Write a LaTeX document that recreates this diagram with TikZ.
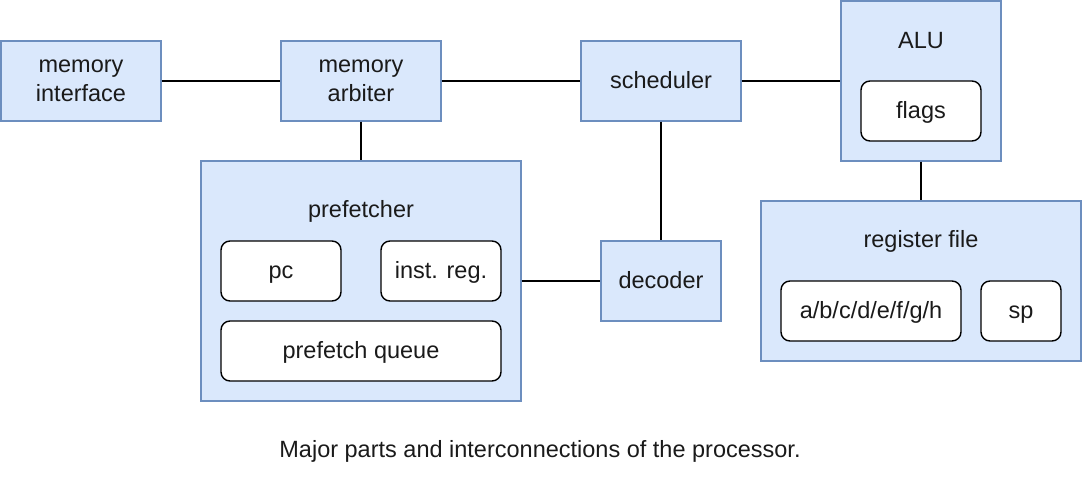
\documentclass[tikz,border=0pt]{standalone}
\usepackage{fontspec}
\setmainfont{Liberation Sans}
\definecolor{boxfill}{HTML}{DAE8FC}
\definecolor{boxline}{HTML}{6C8EBF}
\definecolor{txt}{HTML}{1A1A1A}
\begin{document}
\begin{tikzpicture}[x=1pt,y=-1pt,
  txtstyle/.style={font=\fontsize{23.5}{29}\selectfont, text=txt, align=center, inner sep=0pt},
  oneline/.style={text height=17pt, text depth=3pt},
  bluebox/.style={txtstyle, draw=boxline, fill=boxfill, line width=1.4pt, minimum width=#1, inner sep=0pt},
  whitebox/.style={txtstyle, oneline, draw=black, fill=white, line width=1.4pt, rounded corners=9pt, inner sep=0pt},
  wire/.style={line width=1.4pt, draw=black}]
\useasboundingbox (0,0) rectangle (1082,482);
% top row
\node[bluebox=160pt, minimum height=80pt] (mi) at (81,81) {\raisebox{-2pt}{\begin{tabular}{@{}c@{}}memory\\interface\end{tabular}}};
\node[bluebox=160pt, minimum height=80pt] (ma) at (361,81) {\raisebox{-2pt}{\begin{tabular}{@{}c@{}}memory\\arbiter\end{tabular}}};
\node[bluebox=160pt, minimum height=80pt, oneline] (sc) at (661,81) {scheduler};
\node[bluebox=160pt, minimum height=160pt] (alu) at (921,81) {};
\node[txtstyle, oneline] (alut) at (921,41) {ALU};
\node[whitebox, minimum width=120pt, minimum height=60pt] (fl) at (921,111) {flags};
% prefetcher
\node[bluebox=320pt, minimum height=240pt] (pf) at (361,281) {};
\node[txtstyle, oneline] (pft) at (361,210) {prefetcher};
\node[whitebox, minimum width=120pt, minimum height=60pt] (pc) at (281,271) {pc};
\node[whitebox, minimum width=120pt, minimum height=60pt] (ir) at (441,271) {inst. reg.};
\node[whitebox, minimum width=280pt, minimum height=60pt] (pq) at (361,351) {prefetch queue};
% decoder
\node[bluebox=120pt, minimum height=80pt, oneline] (dec) at (661,281) {decoder};
% register file
\node[bluebox=320pt, minimum height=160pt] (rf) at (921,281) {};
\node[txtstyle, oneline] (rft) at (921,240) {register file};
\node[whitebox, minimum width=180pt, minimum height=60pt] (regs) at (871,311) {a/b/c/d/e/f/g/h};
\node[whitebox, minimum width=80pt, minimum height=60pt] (sp) at (1021,311) {sp};
% caption
\node[txtstyle, oneline] (cap) at (540,450) {Major parts and interconnections of the processor.};
% wires
\draw[wire] (mi.east) -- (ma.west);
\draw[wire] (ma.east) -- (sc.west);
\draw[wire] (sc.east) -- (alu.west |- sc.east);
\draw[wire] (ma.south) -- (pf.north -| ma.south);
\draw[wire] (sc.south) -- (dec.north);
\draw[wire] (pf.east) -- (dec.west);
\draw[wire] (alu.south) -- (rf.north);
\end{tikzpicture}
\end{document}
